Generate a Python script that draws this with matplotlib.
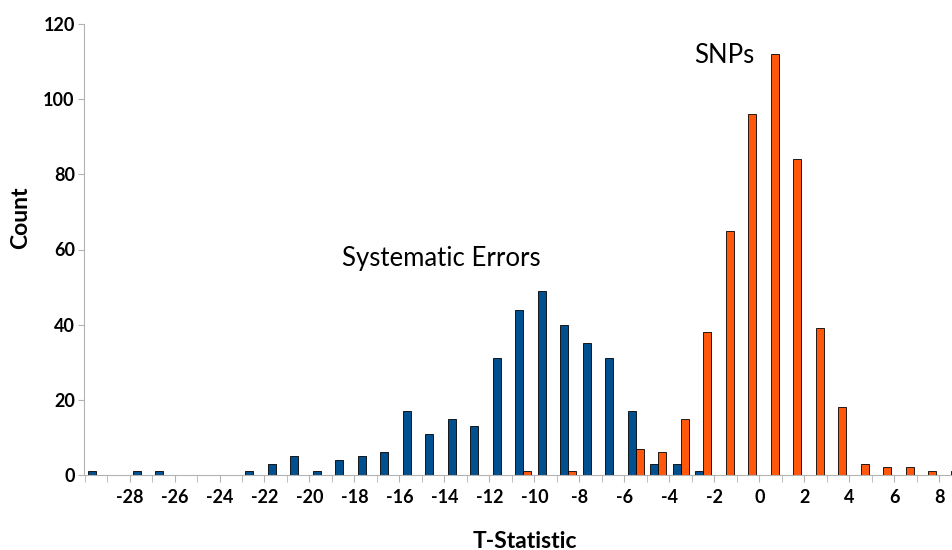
import numpy as np
import matplotlib
matplotlib.use("Agg")
import matplotlib.pyplot as plt
from matplotlib.ticker import MultipleLocator

# histogram bins: lower edges from -30 to 8, width 1
bin_left = np.arange(-30, 9)
systematic = [1, 0, 1, 1, 0, 0, 0, 1, 3, 5, 1, 4, 5, 6, 17, 11, 15, 13, 31, 44,
              49, 40, 35, 31, 17, 3, 3, 1, 0, 0, 0, 0, 0, 0, 0, 0, 0, 0, 0]
snps = [0, 0, 0, 0, 0, 0, 0, 0, 0, 0, 0, 0, 0, 0, 0, 0, 0, 0, 0, 1,
        0, 1, 0, 0, 7, 6, 15, 38, 65, 96, 112, 84, 39, 18, 3, 2, 2, 1, 1]
tick_vals = np.arange(-28, 9, 2)

plt.rcParams['font.family'] = ['Lato', 'DejaVu Sans']

fig = plt.figure(figsize=(9.53, 5.5), dpi=100)
ax = fig.add_axes([84.5 / 953, 75 / 550, 1 - 84.5 / 953, 451 / 550])

centers = bin_left + 0.5
w = 0.36
ax.bar(centers - w / 2, systematic, width=w, color='#00508f', edgecolor='black', linewidth=0.6)
ax.bar(centers + w / 2, snps, width=w, color='#ff580c', edgecolor='black', linewidth=0.6)

ax.set_xlim(-30, 8.6)
ax.set_ylim(0, 120)
ax.set_xticks(tick_vals)
ax.set_xticklabels([str(v) for v in tick_vals], fontweight='bold', fontsize=13)
ax.xaxis.set_minor_locator(MultipleLocator(1))
ax.tick_params(axis='x', which='both', length=5, color='#b3b3b3', pad=5)
ax.set_yticks(np.arange(0, 121, 20))
ax.set_yticklabels([str(v) for v in range(0, 121, 20)], fontweight='bold', fontsize=13)
ax.tick_params(axis='y', length=4, color='#b3b3b3', pad=3)

for s in ['top', 'right']:
    ax.spines[s].set_visible(False)
for s in ['left', 'bottom']:
    ax.spines[s].set_color('#b3b3b3')

ax.text(-18.55, 57.5, 'Systematic Errors', fontsize=18.5, ha='left', va='center')
ax.text(-2.9, 111.5, 'SNPs', fontsize=18.5, ha='left', va='center')

fig.text(21 / 953, 1 - 218 / 550, 'Count', rotation=90, fontweight='bold',
         fontsize=16.5, ha='center', va='center')
fig.text(525 / 953, 1 - 541 / 550, 'T-Statistic', fontweight='bold',
         fontsize=16.5, ha='center', va='center')

fig.savefig('out.png', dpi=100)
